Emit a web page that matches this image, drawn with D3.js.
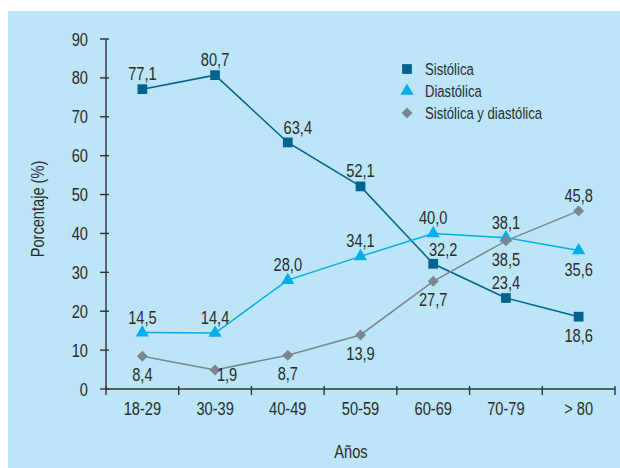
<!DOCTYPE html>
<html>
<head>
<meta charset="utf-8">
<script src="https://cdn.jsdelivr.net/npm/d3@7"></script>
<style>
  body { margin: 0; background: #fff; }
  svg text { font-family: "Liberation Sans", Arial, sans-serif; fill: #2b2b2b; }
</style>
</head>
<body>
<div id="wrapper"></div>
<script>
// categories and values
const ageGroups = ["18-29", "30-39", "40-49", "50-59", "60-69", "70-79", "> 80"]
const sistolica = [77.1, 80.7, 63.4, 52.1, 32.2, 23.4, 18.6]
const diastolica = [14.5, 14.4, 28.0, 34.1, 40.0, 38.9, 35.6]
const ambas = [8.4, 4.9, 8.7, 13.9, 27.7, 38.1, 45.8]

// printed labels (as they appear on the original)
const sistolicaLabels = ["77,1", "80,7", "63,4", "52,1", "32,2", "23,4", "18,6"]
const diastolicaLabels = ["14,5", "14,4", "28,0", "34,1", "40,0", "38,1", "35,6"]
const ambasLabels = ["8,4", "1,9", "8,7", "13,9", "27,7", "38,5", "45,8"]

const yTicks = [0, 10, 20, 30, 40, 50, 60, 70, 80, 90]

let dimensions = {
  width: 620,
  height: 468,
  margin: { top: 39, right: 5, bottom: 79, left: 106 }
}
dimensions.boundedWidth = dimensions.width - dimensions.margin.left - dimensions.margin.right
dimensions.boundedHeight = dimensions.height - dimensions.margin.top - dimensions.margin.bottom

// the original font is a condensed sans, squeeze text horizontally
const squeeze = 0.77
function condText(parent, x, y, txt, size, anchor) {
  return parent.append("text")
    .attr("transform", `translate(${x},${y}) scale(${squeeze},1)`)
    .attr("text-anchor", anchor || "middle")
    .style("font-size", size + "px")
    .text(txt)
}

const wrapper = d3.select("#wrapper")
  .append("svg")
  .attr("width", dimensions.width)
  .attr("height", dimensions.height)

// light blue panel
wrapper.append("rect")
  .attr("x", 8).attr("y", 11)
  .attr("width", 612).attr("height", 457)
  .attr("fill", "#bce5f8")

const bounds = wrapper.append("g")
  .attr("transform", `translate(${dimensions.margin.left},${dimensions.margin.top})`)

const xScale = d3.scaleBand()
  .domain(ageGroups)
  .range([0, 509])

const yScale = d3.scaleLinear()
  .domain([0, 90])
  .range([350, 0])

const xPos = (d, i) => xScale(ageGroups[i]) + xScale.bandwidth() / 2

// y axis
const yAxis = bounds.append("g")
yAxis.append("line")
  .attr("x1", 0).attr("x2", 0)
  .attr("y1", yScale(0)).attr("y2", yScale(90))
  .attr("stroke", "#333").attr("stroke-width", 1.4)
yAxis.selectAll(".ytick").data(yTicks).enter().append("line")
  .attr("x1", -6).attr("x2", 3)
  .attr("y1", d => yScale(d)).attr("y2", d => yScale(d))
  .attr("stroke", "#333").attr("stroke-width", 1.4)
yTicks.forEach(d => condText(yAxis, -18, yScale(d) + 6.5, d, 19, "end"))

// x axis
const xAxis = bounds.append("g").attr("transform", `translate(0,${yScale(0)})`)
xAxis.append("line")
  .attr("x1", 0).attr("x2", 509)
  .attr("stroke", "#333").attr("stroke-width", 1.4)
const xTickPos = ageGroups.map(d => xScale(d)).concat([509])
xAxis.selectAll(".xtick").data(xTickPos).enter().append("line")
  .attr("x1", d => d).attr("x2", d => d)
  .attr("y1", -3).attr("y2", 6)
  .attr("stroke", "#333").attr("stroke-width", 1.4)
ageGroups.forEach(d => condText(xAxis, xScale(d) + xScale.bandwidth() / 2, 25.5, d, 19))

// axis titles
condText(wrapper, 351, 458, "Años", 19)
wrapper.append("text")
  .attr("transform", `translate(44,209) rotate(-90) scale(${squeeze},1)`)
  .attr("text-anchor", "middle")
  .style("font-size", "19px")
  .text("Porcentaje (%)")

// series
const series = [
  { values: sistolica, labels: sistolicaLabels, color: "#00628e", symbol: d3.symbolSquare, size: 95, rot: 0,
    place: ["a", "a", "ar", "a", "ar", "a", "b"] },
  { values: diastolica, labels: diastolicaLabels, color: "#00adee", symbol: d3.symbolTriangle, size: 75, rot: 0,
    place: ["a", "a", "a", "a", "a", "a", "b"] },
  { values: ambas, labels: ambasLabels, color: "#7b868e", symbol: d3.symbolSquare, size: 60, rot: 45,
    place: ["b", "br", "b", "b", "b", "b", "a"] }
]

const lineGen = d3.line()
  .x((d, i) => xPos(d, i))
  .y(d => yScale(d))

series.forEach(s => {
  bounds.append("path")
    .attr("d", lineGen(s.values))
    .attr("fill", "none")
    .attr("stroke", s.color)
    .attr("stroke-width", 1.5)

  bounds.selectAll(null).data(s.values).enter().append("path")
    .attr("d", d3.symbol().type(s.symbol).size(s.size))
    .attr("transform", (d, i) => `translate(${xPos(d, i)},${yScale(d)}) rotate(${s.rot})`)
    .attr("fill", s.color)
})

series.forEach(s => {
  s.values.forEach((d, i) => {
    const p = s.place[i]
    let dx = 0, dy = p[0] == "a" ? -9 : 25
    if (p == "ar") { dx = 10; dy = -8 }
    if (p == "br") { dx = 12; dy = 11 }
    condText(bounds, xPos(d, i) + dx, yScale(d) + dy, s.labels[i], 19)
  })
})

// legend
const legendItems = ["Sistólica", "Diastólica", "Sistólica y diastólica"]
const legend = wrapper.append("g").attr("transform", "translate(407,69)")
series.forEach((s, i) => {
  legend.append("path")
    .attr("d", d3.symbol().type(s.symbol).size(s.size)())
    .attr("transform", `translate(0,${i * 22}) rotate(${s.rot})`)
    .attr("fill", s.color)
  condText(legend, 18, i * 22 + 6, legendItems[i], 17, "start")
})
</script>
</body>
</html>
